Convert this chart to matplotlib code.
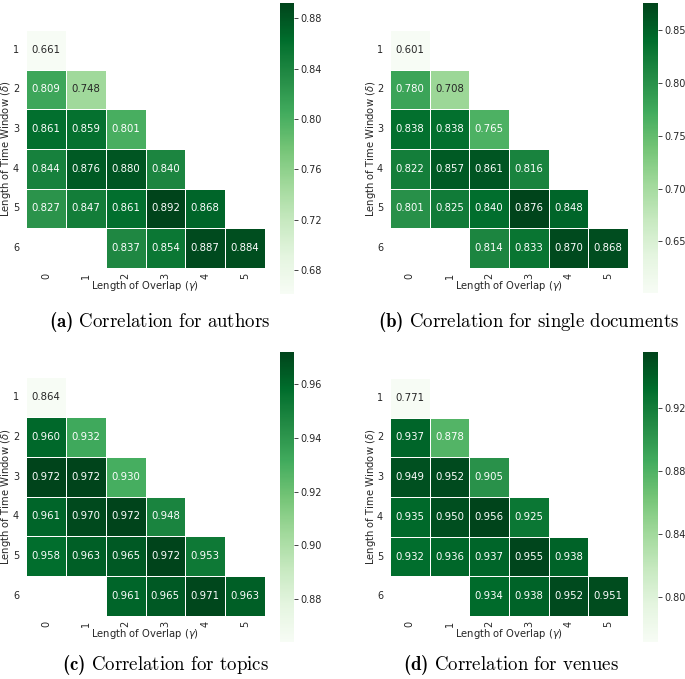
import numpy as np
import matplotlib
matplotlib.use("Agg")
import matplotlib.pyplot as plt
import matplotlib.ticker as mticker
import seaborn as sns

# serif (Computer Modern) captions, sans italic greek in axis labels
plt.rcParams['mathtext.fontset'] = 'custom'
plt.rcParams['mathtext.rm'] = 'cmr10'
plt.rcParams['mathtext.bf'] = 'cmb10'
plt.rcParams['mathtext.it'] = 'DejaVu Sans:italic'
plt.rcParams['mathtext.fallback'] = 'cm'

nan = np.nan

# rows: time window delta = 1..6, cols: overlap gamma = 0..5
WINDOWS = [1, 2, 3, 4, 5, 6]
OVERLAPS = [0, 1, 2, 3, 4, 5]

authors = [
    [0.661, nan, nan, nan, nan, nan],
    [0.809, 0.748, nan, nan, nan, nan],
    [0.861, 0.859, 0.801, nan, nan, nan],
    [0.844, 0.876, 0.880, 0.840, nan, nan],
    [0.827, 0.847, 0.861, 0.892, 0.868, nan],
    [nan, nan, 0.837, 0.854, 0.887, 0.884],
]
single_docs = [
    [0.601, nan, nan, nan, nan, nan],
    [0.780, 0.708, nan, nan, nan, nan],
    [0.838, 0.838, 0.765, nan, nan, nan],
    [0.822, 0.857, 0.861, 0.816, nan, nan],
    [0.801, 0.825, 0.840, 0.876, 0.848, nan],
    [nan, nan, 0.814, 0.833, 0.870, 0.868],
]
topics = [
    [0.864, nan, nan, nan, nan, nan],
    [0.960, 0.932, nan, nan, nan, nan],
    [0.972, 0.972, 0.930, nan, nan, nan],
    [0.961, 0.970, 0.972, 0.948, nan, nan],
    [0.958, 0.963, 0.965, 0.972, 0.953, nan],
    [nan, nan, 0.961, 0.965, 0.971, 0.963],
]
venues = [
    [0.771, nan, nan, nan, nan, nan],
    [0.937, 0.878, nan, nan, nan, nan],
    [0.949, 0.952, 0.905, nan, nan, nan],
    [0.935, 0.950, 0.956, 0.925, nan, nan],
    [0.932, 0.936, 0.937, 0.955, 0.938, nan],
    [nan, nan, 0.934, 0.938, 0.952, 0.951],
]

panels = [
    (authors, "a", "Correlation\\ for\\ authors", 0.04),
    (single_docs, "b", "Correlation\\ for\\ single\\ documents", 0.05),
    (topics, "c", "Correlation\\ for\\ topics", 0.02),
    (venues, "d", "Correlation\\ for\\ venues", 0.04),
]

W, H = 685, 679
fig = plt.figure(figsize=(W / 100, H / 100), dpi=100)

# pixel boxes: heatmap (x0, y0, x1, y1), colorbar (x0, y0, x1, y1), caption (x, y)
boxes = [
    ((26, 30, 265, 268), (280, 3, 294, 294), (160, 322)),
    ((390, 30, 628, 268), (643, 3, 658, 293), (529, 322)),
    ((26, 377, 265, 616), (280, 352, 294, 642), (165, 665)),
    ((390, 378, 628, 616), (643, 352, 658, 642), (511, 665)),
]


def rect(b):
    x0, y0, x1, y1 = b
    return [x0 / W, 1 - y1 / H, (x1 - x0) / W, (y1 - y0) / H]


for (data, letter, title, step), (hb, cb, cap) in zip(panels, boxes):
    arr = np.array(data, dtype=float)
    ax = fig.add_axes(rect(hb))
    cax = fig.add_axes(rect(cb))
    sns.heatmap(arr, mask=np.isnan(arr), annot=True, fmt=".3f", cmap="Greens",
                linewidths=0.5, linecolor="white", ax=ax, cbar_ax=cax,
                xticklabels=OVERLAPS, yticklabels=WINDOWS,
                annot_kws={"fontsize": 7.3})
    ax.tick_params(length=0, labelsize=7, colors="#262626")
    ax.tick_params(axis="y", pad=5)
    ax.set_yticklabels(WINDOWS, rotation=0)
    ax.set_xticklabels(OVERLAPS, rotation=90)
    ax.set_xlabel(r"Length of Overlap ($\gamma$)", fontsize=7.2, labelpad=0, color="#262626")
    ax.set_ylabel(r"Length of Time Window ($\delta$)", fontsize=7.2, labelpad=-0.5, color="#262626")
    cax.yaxis.set_major_locator(mticker.MultipleLocator(step))
    cax.tick_params(labelsize=7, length=3, width=0.6, pad=1.5, colors="#262626")
    fig.text(cap[0] / W, 1 - cap[1] / H,
             r"$\mathbf{(%s)}$ $\mathrm{%s}$" % (letter, title),
             ha="center", va="center", fontsize=13.6)

fig.savefig("out.png", dpi=100)
